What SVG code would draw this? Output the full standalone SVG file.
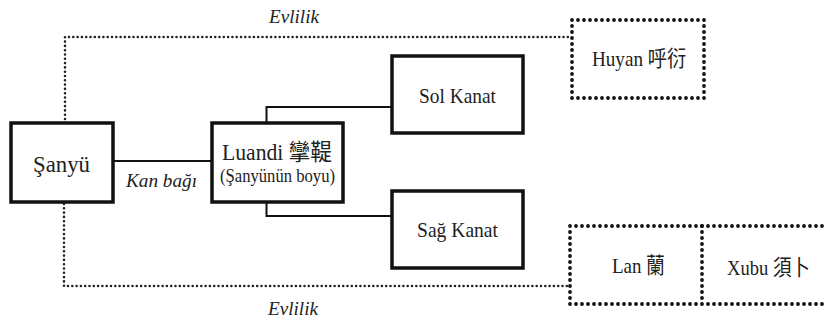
<svg xmlns="http://www.w3.org/2000/svg" width="826" height="323" viewBox="0 0 826 323">
<style>
.box{fill:#fff;stroke:#111;stroke-width:3.5}
.dbox{fill:none;stroke:#111;stroke-width:3.8;stroke-linecap:round;stroke-dasharray:0 6}
.dline{fill:none;stroke:#222;stroke-width:2.6;stroke-linecap:round;stroke-dasharray:0 4.3}
.line{fill:none;stroke:#111;stroke-width:2}
.t{font-family:'Liberation Serif','Times New Roman','Noto Sans CJK TC',serif;fill:#222;text-anchor:middle}
.lbl{font-size:22px}
.it{font-style:italic;font-size:19px}
</style>
<rect width="826" height="323" fill="#fff"/>
<g id="connectors">
<polyline class="dline" points="65,119 65,37 572,37"/>
<polyline class="dline" points="64,204 64,286 570,286"/>
<line class="line" x1="113" y1="161" x2="212" y2="161"/>
<polyline class="line" points="266.5,123 266.5,107 392,107"/>
<polyline class="line" points="266.5,202 266.5,216 392,216"/>
<text class="t it" x="294" y="23" textLength="50" lengthAdjust="spacingAndGlyphs">Evlilik</text>
<text class="t it" x="293" y="315" textLength="50" lengthAdjust="spacingAndGlyphs">Evlilik</text>
<text class="t it" x="161.5" y="187" textLength="71" lengthAdjust="spacingAndGlyphs">Kan bağı</text>
</g>
<g id="sanyu">
<rect class="box" x="11" y="123" width="102" height="79"/>
<text class="t" x="61.5" y="172" font-size="24" textLength="57" lengthAdjust="spacingAndGlyphs">Şanyü</text>
</g>
<g id="luandi">
<rect class="box" x="212" y="123" width="131" height="79"/>
<text class="t" x="277" y="160" font-size="23" textLength="110" lengthAdjust="spacingAndGlyphs">Luandi 攣鞮</text>
<text class="t" x="277.5" y="182" font-size="18" textLength="115" lengthAdjust="spacingAndGlyphs">(Şanyünün boyu)</text>
</g>
<g id="sol-kanat">
<rect class="box" x="392" y="56" width="131" height="77"/>
<text class="t lbl" x="457.5" y="103" textLength="77" lengthAdjust="spacingAndGlyphs">Sol Kanat</text>
</g>
<g id="sag-kanat">
<rect class="box" x="392" y="191" width="131" height="77"/>
<text class="t lbl" x="457.5" y="237" textLength="81" lengthAdjust="spacingAndGlyphs">Sağ Kanat</text>
</g>
<g id="huyan">
<rect class="dbox" x="572" y="20" width="132" height="78"/>
<text class="t lbl" x="639" y="66" textLength="94" lengthAdjust="spacingAndGlyphs">Huyan 呼衍</text>
</g>
<g id="lan-xubu">
<rect class="dbox" x="570" y="226" width="270" height="78"/>
<line class="dbox" x1="702" y1="226" x2="702" y2="304"/>
<text class="t lbl" x="638.5" y="273" textLength="53" lengthAdjust="spacingAndGlyphs">Lan 蘭</text>
<text class="t lbl" x="768.5" y="275" textLength="83" lengthAdjust="spacingAndGlyphs">Xubu 須卜</text>
</g>
</svg>
